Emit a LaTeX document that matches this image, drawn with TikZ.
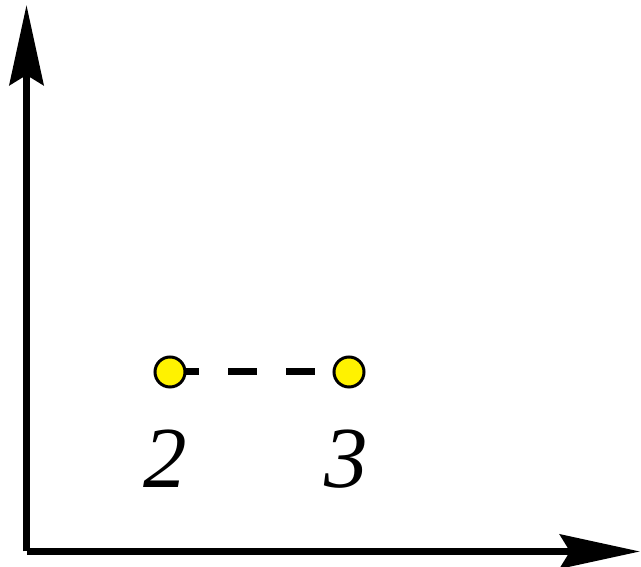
\documentclass[tikz,border=0pt]{standalone}
\usepackage{fontspec}
\setmainfont{Liberation Serif}
\usetikzlibrary{arrows.meta}
\begin{document}
\begin{tikzpicture}[x=1pt,y=1pt,
  axis/.style={line width=7pt,-{Stealth[length=80pt,width=34pt,inset=10pt]}},
  dot/.style={circle,draw=black,fill=yellow,line width=3pt,minimum size=30pt,inner sep=0pt},
  link/.style={line width=7pt,dash pattern=on 29pt off 29pt},
  lbl/.style={font=\fontsize{87}{87}\selectfont\itshape,inner sep=0pt,anchor=base}]
\useasboundingbox (0,0) rectangle (641,567);
\coordinate (o) at (26.5,15.5);
\coordinate (ytip) at (26.5,562);
\coordinate (xtip) at (640,15.5);
\draw[axis] (o) -- (ytip);
\draw[axis] (o) -- (xtip);
\coordinate (p2) at (170,195);
\coordinate (p3) at (349,195);
\draw[link] (p2) -- (p3);
\node[dot] (n2) at (p2) {};
\node[dot] (n3) at (p3) {};
\node[lbl] (l2) at (165,79) {2};
\node[lbl] (l3) at (346,79) {3};
\end{tikzpicture}
\end{document}
